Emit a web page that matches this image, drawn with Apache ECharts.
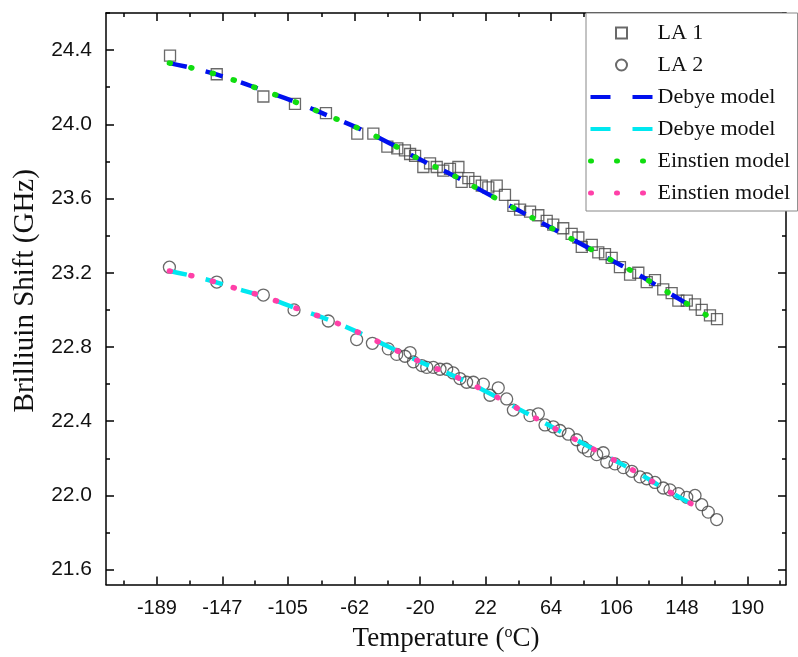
<!DOCTYPE html>
<html>
<head>
<meta charset="utf-8">
<title>Brillouin shift vs temperature</title>
<script src="https://cdn.jsdelivr.net/npm/echarts@6/dist/echarts.min.js"></script>
<style>
  html, body { margin: 0; padding: 0; background: #fff; }
  #chart { width: 798px; height: 657px; }
</style>
</head>
<body>
<div id="chart"></div>
<script>
const la1Temp = [-180.6, -150.6, -120.7, -100.4, -80.5, -60.4, -50.1, -41.1, -34.7, -29.8, -26.5, -23.3, -18.0, -13.7, -9.4, -5.2, -0.9, 4.5, 6.6, 10.9, 15.2, 19.5, 23.7, 29.1, 34.4, 39.8, 44.1, 50.5, 55.8, 61.2, 65.4, 71.8, 77.2, 81.5, 83.7, 90.1, 94.3, 98.6, 102.9, 108.2, 114.7, 120.0, 125.4, 130.7, 136.0, 141.4, 145.7, 151.1, 156.4, 160.7, 166.0, 170.5]
const la1Shift = [24.37, 24.27, 24.15, 24.11, 24.06, 23.95, 23.95, 23.88, 23.87, 23.86, 23.84, 23.83, 23.77, 23.79, 23.77, 23.75, 23.76, 23.77, 23.69, 23.71, 23.69, 23.67, 23.66, 23.67, 23.62, 23.56, 23.54, 23.53, 23.51, 23.48, 23.46, 23.44, 23.41, 23.39, 23.34, 23.35, 23.31, 23.30, 23.28, 23.23, 23.19, 23.20, 23.15, 23.16, 23.11, 23.09, 23.05, 23.05, 23.03, 23.00, 22.97, 22.95]

const la2Temp = [-181.0, -150.6, -120.7, -101.0, -79.0, -60.8, -50.7, -40.5, -35.1, -29.8, -26.5, -24.4, -19.0, -15.8, -11.6, -7.3, -3.0, 1.2, 5.5, 9.8, 14.1, 20.5, 24.8, 30.1, 35.5, 39.8, 50.5, 55.8, 60.1, 65.4, 69.7, 75.1, 80.4, 84.7, 87.9, 93.3, 97.5, 99.7, 105.0, 110.4, 115.8, 121.1, 125.4, 130.7, 136.0, 140.3, 145.7, 151.1, 156.4, 160.7, 164.9, 170.3]
const la2Shift = [23.23, 23.15, 23.08, 23.00, 22.94, 22.84, 22.82, 22.79, 22.76, 22.75, 22.77, 22.72, 22.70, 22.69, 22.69, 22.68, 22.68, 22.66, 22.63, 22.61, 22.61, 22.60, 22.54, 22.58, 22.52, 22.46, 22.43, 22.44, 22.38, 22.37, 22.35, 22.33, 22.30, 22.26, 22.24, 22.22, 22.23, 22.18, 22.17, 22.15, 22.13, 22.10, 22.09, 22.07, 22.04, 22.03, 22.01, 21.99, 22.00, 21.95, 21.91, 21.87]

// fitted model curves
const modelTemp = [-181, -160, -140, -120, -100, -80, -60, -40, -20, 0, 20, 40, 60, 80, 100, 120, 140, 164]
const debyeLA1 = [24.33, 24.29, 24.24, 24.18, 24.12, 24.05, 23.98, 23.90, 23.81, 23.73, 23.64, 23.55, 23.46, 23.37, 23.28, 23.19, 23.09, 22.97]
const einsteinLA1 = [24.33, 24.29, 24.24, 24.18, 24.12, 24.05, 23.98, 23.90, 23.81, 23.73, 23.64, 23.55, 23.46, 23.37, 23.28, 23.19, 23.09, 22.97]
const debyeLA2 = [23.21, 23.17, 23.12, 23.07, 23.01, 22.95, 22.88, 22.80, 22.72, 22.65, 22.57, 22.48, 22.39, 22.30, 22.21, 22.12, 22.02, 21.91]
const einsteinLA2 = [23.21, 23.17, 23.12, 23.07, 23.01, 22.95, 22.88, 22.80, 22.72, 22.65, 22.57, 22.48, 22.39, 22.30, 22.21, 22.12, 22.02, 21.91]

// tick labels
const xTicks = [-189, -147, -105, -62, -20, 22, 64, 106, 148, 190]
const yTicks = [21.6, 22.0, 22.4, 22.8, 23.2, 23.6, 24.0, 24.4]

const X_MIN = -221.7, X_MAX = 214.8
const Y_MIN = 21.52, Y_MAX = 24.6

const zip = (xs, ys) => xs.map((x, i) => [x, ys[i]])

// minor ticks sit halfway between the labelled ones
const midpoints = (ticks) => {
  const out = [ticks[0] - (ticks[1] - ticks[0]) / 2]
  for (let i = 0; i < ticks.length - 1; i++) out.push((ticks[i] + ticks[i + 1]) / 2)
  out.push(ticks[ticks.length - 1] + (ticks[1] - ticks[0]) / 2)
  return out
}
const xMinor = midpoints(xTicks)
const yMinor = midpoints(yTicks).filter(v => v > Y_MIN && v < Y_MAX)

const serif = 'Liberation Serif'
const sans = 'Liberation Sans'
const frame = { show: true, onZero: false, lineStyle: { color: '#000', width: 1.5 } }
const noLine = { show: false, onZero: false }
const squarePath = 'path://M0,0L10,0L10,10L0,10Z'

const makeX = (pos, ticks, len, withLabel, withLine) => ({
  type: 'value', position: pos, min: X_MIN, max: X_MAX,
  axisLine: withLine ? frame : noLine,
  splitLine: { show: false },
  axisTick: { show: true, inside: true, length: len, customValues: ticks, lineStyle: { color: '#000', width: 1.5 } },
  axisLabel: withLabel
    ? { show: true, customValues: ticks, formatter: v => String(Math.round(v)), fontFamily: sans, fontSize: 20, color: '#111', margin: 14 }
    : { show: false }
})

const makeY = (pos, ticks, len, withLabel, withLine) => ({
  type: 'value', position: pos, min: Y_MIN, max: Y_MAX,
  axisLine: withLine ? frame : noLine,
  splitLine: { show: false },
  axisTick: { show: true, inside: true, length: len, customValues: ticks, lineStyle: { color: '#000', width: 1.5 } },
  axisLabel: withLabel
    ? { show: true, customValues: ticks, formatter: v => v.toFixed(1), fontFamily: sans, fontSize: 21, color: '#111', margin: 14 }
    : { show: false }
})

const xBottom = makeX('bottom', xTicks, 8, true, true)
xBottom.name = 'Temperature ({sup|o}C)'
xBottom.nameLocation = 'middle'
xBottom.nameGap = 40
xBottom.nameTextStyle = {
  fontFamily: serif, fontSize: 27, color: '#111',
  rich: { sup: { fontFamily: serif, fontSize: 16, color: '#111', padding: [0, 0, 12, 0] } }
}

const yLeft = makeY('left', yTicks, 8, true, true)
yLeft.name = 'Brilliuin Shift (GHz)'
yLeft.nameLocation = 'middle'
yLeft.nameGap = 60
yLeft.nameTextStyle = { fontFamily: serif, fontSize: 29, color: '#111', padding: [0, 0, 0, 16] }

// legend rows: line samples keep their own dash pattern, no marker in the middle
const lineItem = (name, color, width, type, cap) => ({
  name,
  itemStyle: { color: 'rgba(0,0,0,0)', borderWidth: 0 },
  lineStyle: { color, width, type, cap }
})

const blue = '#0010ee'
const cyan = '#00e8f0'
const green = '#10dd10'
const pink = '#ff40a8'

const chart = echarts.init(document.getElementById('chart'))

const option = {
  backgroundColor: '#fff',
  animation: false,
  grid: { left: 106, right: 12, top: 13, bottom: 72, containLabel: false },
  xAxis: [
    xBottom,
    makeX('bottom', xMinor, 4, false, false),
    makeX('top', xTicks, 8, false, true),
    makeX('top', xMinor, 4, false, false)
  ],
  yAxis: [
    yLeft,
    makeY('left', yMinor, 4, false, false),
    makeY('right', yTicks, 8, false, true),
    makeY('right', yMinor, 4, false, false)
  ],
  legend: {
    orient: 'vertical',
    left: 586,
    top: 13,
    padding: [9, 2, 7, 2],
    itemWidth: 62,
    itemHeight: 11,
    itemGap: 10,
    itemTextGap: 3,
    backgroundColor: '#fff',
    borderColor: '#888',
    borderWidth: 1,
    textStyle: { fontFamily: serif, fontSize: 22, color: '#111' },
    data: [
      'LA 1',
      'LA 2',
      lineItem('Debye model', blue, 4, [20, 22], 'butt'),
      lineItem('Debye model\u00a0', cyan, 4, [20, 22], 'butt'),
      lineItem('Einstien model', green, 5, [1, 25], 'round'),
      lineItem('Einstien model\u00a0', pink, 5, [1, 25], 'round')
    ]
  },
  series: [
    {
      name: 'LA 1', type: 'scatter', symbol: squarePath, symbolSize: 11, symbolKeepAspect: true,
      itemStyle: { color: 'rgba(0,0,0,0)', borderColor: '#444', borderWidth: 1.3 },
      data: zip(la1Temp, la1Shift)
    },
    {
      name: 'LA 2', type: 'scatter', symbol: 'circle', symbolSize: 12,
      itemStyle: { color: 'rgba(0,0,0,0)', borderColor: '#444', borderWidth: 1.3 },
      data: zip(la2Temp, la2Shift)
    },
    {
      name: 'Debye model', type: 'line', smooth: true, showSymbol: false, symbol: 'none',
      lineStyle: { color: blue, width: 4.5, type: [18, 19] },
      itemStyle: { color: 'rgba(0,0,0,0)' },
      data: zip(modelTemp, debyeLA1)
    },
    {
      name: 'Debye model\u00a0', type: 'line', smooth: true, showSymbol: false, symbol: 'none',
      lineStyle: { color: cyan, width: 4.5, type: [18, 19] },
      itemStyle: { color: 'rgba(0,0,0,0)' },
      data: zip(modelTemp, debyeLA2)
    },
    {
      name: 'Einstien model', type: 'line', smooth: true, showSymbol: false, symbol: 'none',
      lineStyle: { color: green, width: 5.5, type: [1, 21], cap: 'round' },
      itemStyle: { color: 'rgba(0,0,0,0)' },
      data: zip(modelTemp, einsteinLA1)
    },
    {
      name: 'Einstien model\u00a0', type: 'line', smooth: true, showSymbol: false, symbol: 'none',
      lineStyle: { color: pink, width: 5.5, type: [1, 21], cap: 'round' },
      itemStyle: { color: 'rgba(0,0,0,0)' },
      data: zip(modelTemp, einsteinLA2)
    }
  ]
}

chart.setOption(option)
</script>
</body>
</html>
